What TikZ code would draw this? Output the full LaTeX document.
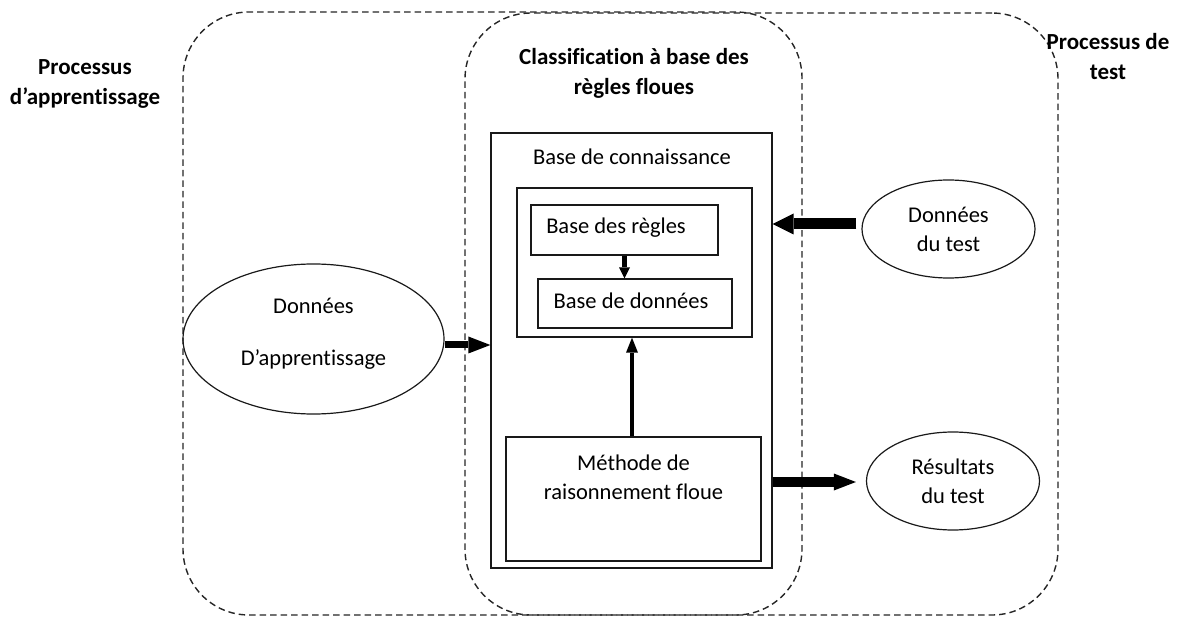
\documentclass[tikz,border=0pt]{standalone}
\usepackage{fontspec}
\setmainfont{Carlito}[Ligatures=NoCommon]
\usetikzlibrary{arrows.meta,shapes.geometric,calc}
\tikzset{
  zone/.style={draw=black!85, line width=1.4pt, dash pattern=on 6.5pt off 4pt, rounded corners=66pt, rectangle, inner sep=0pt},
  solidbox/.style={draw=black!90, line width=1.3pt, rectangle, inner sep=0pt},
  oval/.style={draw=black!90, line width=1.2pt, ellipse, inner sep=0pt, align=center},
  txt/.style={inner sep=0pt, align=center, font=\fontsize{22.5}{29}\selectfont},
  btxt/.style={inner sep=0pt, align=center, font=\fontsize{23}{30}\selectfont\bfseries},
  fat/.style n args={3}{line width=#1, -{Triangle[length=#2, width=#3, line width=0pt]}}
}
\begin{document}
\begin{tikzpicture}[x=1pt, y=-1pt, font=\fontsize{22.5}{29}\selectfont]
\useasboundingbox[fill=white] (0,0) rectangle (1181,617);

% dashed zones
\node[zone, minimum width=619pt, minimum height=603pt] (learn) at (492.5,313.5) {};
\node[zone, minimum width=593pt, minimum height=602pt] (testzone) at (761.5,314) {};

% labels
\node[btxt] (lablearn) at (85,84) {Processus\\d’apprentissage};
\node[btxt] (labtest) at (1108,57) {Processus de\\test};
\node[btxt] (labclass) at (634,73) {Classification à base des\\règles floues};

% knowledge base
\node[solidbox, minimum width=281pt, minimum height=435pt] (kb) at (631.5,350.5) {};
\node[txt] (kblabel) at (632,157) {Base de connaissance};
\node[solidbox, minimum width=235pt, minimum height=149pt] (inner) at (634.5,262.5) {};
\node[solidbox, minimum width=187pt, minimum height=50pt] (regles) at (624.5,230) {};
\node[txt] (reglestxt) at (616,228) {Base des règles};
\node[solidbox, minimum width=194pt, minimum height=49pt] (donnees) at (635,303.5) {};
\node[txt] (donneestxt) at (631,301) {Base de données};
\node[solidbox, minimum width=255pt, minimum height=124pt] (methode) at (633.5,499) {};
\node[txt] (methlabel) at (633.5,477) {Méthode de\\raisonnement floue};

% ellipses
\node[oval, minimum width=261pt, minimum height=150pt] (appr) at (313.5,339) {};
\node[txt] (apprlabel) at (313.5,334) {Données\\[23pt]D’apprentissage};
\node[oval, minimum width=173pt, minimum height=98pt, txt] (dtest) at (948.5,229) {Données\\du test};
\node[oval, minimum width=173pt, minimum height=98pt, txt] (res) at (953,481) {Résultats\\du test};

% arrows
\draw[fat={7pt}{22pt}{17pt}] ($(appr.east)+(0,6)$) -- ($(appr.east -| kb.west)+(0,6)$);
\draw[fat={11pt}{21pt}{21pt}] ($(dtest.west)+(-5,-5)$) -- ($(dtest.west -| kb.east)+(0,-5)$);
\draw[fat={10pt}{22pt}{17pt}] ($(res.west -| kb.east)+(0,1)$) -- ($(res.west)+(-10,1)$);
\draw[fat={4pt}{15pt}{12pt}] ($(methode.north)+(-1.5,0)$) -- ($(methode.north |- inner.south)+(-1.5,0)$);
\draw[fat={4.5pt}{11pt}{11pt}] (regles.south) -- (regles.south |- donnees.north);
\end{tikzpicture}
\end{document}
